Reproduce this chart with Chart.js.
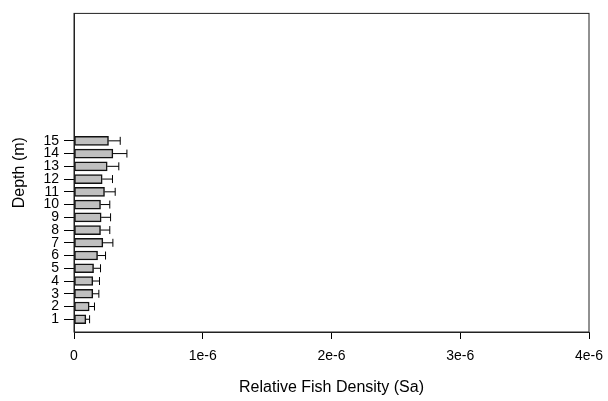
<!DOCTYPE html>
<html lang="en">
<head>
  <meta charset="UTF-8">
  <title>Relative Fish Density by Depth</title>
  <script src="https://cdn.jsdelivr.net/npm/chart.js"></script>
  <style>
    html, body { margin: 0; padding: 0; background: #fff; }
  </style>
</head>
<body>
  <canvas id="densityChart" width="608" height="401"></canvas>

  <script>
    // Depth classes (m) and mean relative density (Sa) with error
    const depths = [1, 2, 3, 4, 5, 6, 7, 8, 9, 10, 11, 12, 13, 14, 15];
    const density = [0.092e-6, 0.118e-6, 0.146e-6, 0.146e-6, 0.152e-6, 0.183e-6, 0.224e-6, 0.206e-6,
                     0.211e-6, 0.206e-6, 0.237e-6, 0.219e-6, 0.258e-6, 0.302e-6, 0.268e-6];
    const densityErr = [0.029e-6, 0.041e-6, 0.047e-6, 0.052e-6, 0.054e-6, 0.062e-6, 0.078e-6, 0.072e-6,
                        0.073e-6, 0.072e-6, 0.083e-6, 0.080e-6, 0.090e-6, 0.109e-6, 0.091e-6];
    const xTicks = [0, 1e-6, 2e-6, 3e-6, 4e-6];
    const xTickLabels = ['0', '1e-6', '2e-6', '3e-6', '4e-6'];

    const font = "'Liberation Sans', Arial, sans-serif";

    // draws error bars to the right of each bar
    const errorBars = {
      id: 'errorBars',
      afterDatasetsDraw(chart) {
        const ctx = chart.ctx;
        const xs = chart.scales.x, ys = chart.scales.y;
        ctx.save();
        ctx.strokeStyle = '#000';
        ctx.lineWidth = 1;
        depths.forEach((d, i) => {
          const x0 = xs.getPixelForValue(density[i]);
          const x1 = xs.getPixelForValue(density[i] + densityErr[i]);
          const y = ys.getPixelForValue(d);
          ctx.beginPath();
          ctx.moveTo(x0, y);
          ctx.lineTo(x1, y);
          ctx.moveTo(x1, y - 4);
          ctx.lineTo(x1, y + 4);
          ctx.stroke();
        });
        ctx.restore();
      }
    };

    // box around the plot area
    const frame = {
      id: 'frame',
      afterDraw(chart) {
        const a = chart.chartArea;
        const ctx = chart.ctx;
        ctx.save();
        ctx.strokeStyle = '#222';
        ctx.lineWidth = 1;
        ctx.strokeRect(a.left, a.top, a.right - a.left, a.bottom - a.top);
        ctx.restore();
      }
    };

    const ctx = document.getElementById('densityChart').getContext('2d');
    new Chart(ctx, {
      type: 'bar',
      data: {
        datasets: [{
          label: 'Relative Fish Density',
          data: depths.map((d, i) => ({ x: density[i], y: d })),
          backgroundColor: '#c0c0c0',
          borderColor: '#111',
          borderWidth: 1.5,
          borderSkipped: false,
          barThickness: 9
        }]
      },
      options: {
        indexAxis: 'y',
        responsive: false,
        animation: false,
        layout: { padding: { top: 9, right: 19, left: 0, bottom: 0 } },
        plugins: {
          legend: { display: false },
          tooltip: { enabled: false }
        },
        scales: {
          x: {
            type: 'linear',
            min: 0,
            max: 4e-6,
            afterBuildTicks(scale) {
              scale.ticks = xTicks.map(v => ({ value: v }));
            },
            afterFit(scale) {
              scale.height = 69;
              scale.paddingLeft = 0;
              scale.paddingRight = 0;
            },
            ticks: {
              color: '#000',
              font: { family: font, size: 14 },
              padding: 9,
              maxRotation: 0,
              callback: (v, i) => xTickLabels[i]
            },
            grid: {
              drawOnChartArea: false,
              tickLength: 7,
              tickColor: '#000'
            },
            border: { color: '#222' },
            title: {
              display: true,
              text: 'Relative Fish Density (Sa)',
              color: '#000',
              font: { family: font, size: 16 },
              padding: { top: 8 }
            }
          },
          y: {
            type: 'linear',
            min: 0,
            max: 25,
            offset: false,
            afterBuildTicks(scale) {
              scale.ticks = depths.map(v => ({ value: v }));
            },
            afterFit(scale) { scale.width = 74; },
            ticks: {
              color: '#000',
              font: { family: font, size: 14 },
              padding: 5,
              callback: v => String(v)
            },
            grid: {
              offset: false,
              drawOnChartArea: false,
              tickLength: 10,
              tickColor: '#000'
            },
            border: { color: '#222' },
            title: {
              display: true,
              text: 'Depth (m)',
              color: '#000',
              font: { family: font, size: 16 },
              padding: { top: 10, bottom: 4 }
            }
          }
        }
      },
      plugins: [errorBars, frame]
    });
  </script>
</body>
</html>
